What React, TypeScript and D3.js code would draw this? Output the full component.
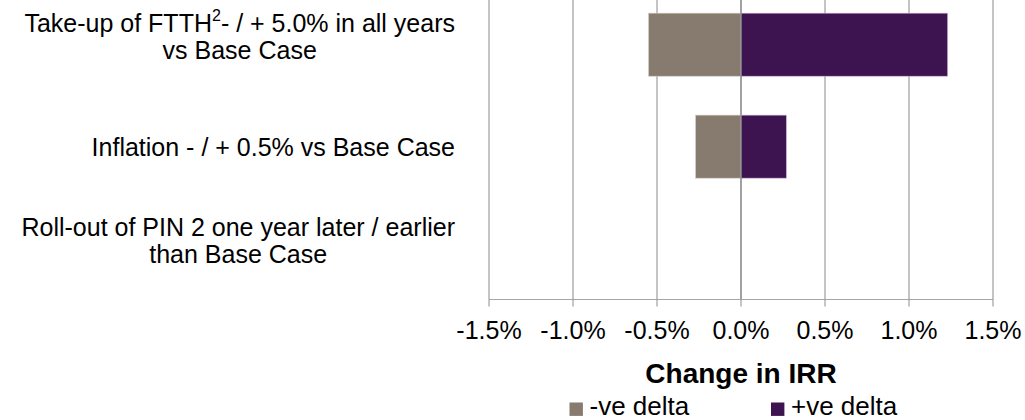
import React from "react";
import * as d3 from "d3";

// Sensitivity of IRR to each driver (percentage points)
const categories = ["takeup", "inflation", "rollout"];
const labelLines: string[][] = [
  ["Take-up of FTTH|2|- / + 5.0% in all years", "vs Base Case"],
  ["Inflation - / + 0.5% vs Base Case"],
  ["Roll-out of PIN 2 one year later / earlier", "than Base Case"],
];
const negDelta = [-0.55, -0.27, 0];
const posDelta = [1.23, 0.27, 0];
const xTicks = [-1.5, -1.0, -0.5, 0, 0.5, 1.0, 1.5];
const seriesNames = ["-ve delta", "+ve delta"];

const W = 1025;
const H = 420;
const FONT = "Arial, 'Liberation Sans', sans-serif";
const NEG_COLOR = "#877b6f";
const POS_COLOR = "#3d1450";

const measureCtx = (() => {
  const c = document.createElement("canvas");
  return c.getContext("2d") as CanvasRenderingContext2D;
})();
function textWidth(s: string, size: number, weight = "normal") {
  measureCtx.font = `${weight} ${size}px ${FONT}`;
  return measureCtx.measureText(s).width;
}
function lineWidth(line: string) {
  const parts = line.split("|");
  if (parts.length === 3) {
    return textWidth(parts[0], 25) + textWidth(parts[1], 16) + textWidth(parts[2], 25);
  }
  return textWidth(line, 25);
}

// percent formatter with a plain hyphen for negatives
const fmt = d3.formatLocale({
  decimal: ".",
  thousands: ",",
  grouping: [3],
  currency: ["", ""],
  minus: "-",
}).format(".1%");

export default function App() {
  const x = d3.scaleLinear().domain([-1.5, 1.5]).range([489, 993]);
  const y = d3
    .scaleBand<string>()
    .domain(categories)
    .range([-6.3, 299.6])
    .paddingInner(0.382)
    .paddingOuter(0.191);
  const axisY = 299.5;
  const labelRight = 455;

  return (
    <svg
      width={W}
      height={H}
      style={{ position: "absolute", left: 0, top: 0, background: "#fff" }}
      fontFamily={FONT}
    >
      <rect width={W} height={H} fill="#fff" />
      {/* vertical gridlines */}
      {xTicks.map((t) => (
        <line
          key={"g" + t}
          x1={x(t)}
          x2={x(t)}
          y1={-10}
          y2={axisY}
          stroke="#c4c4c4"
          strokeWidth={2}
        />
      ))}
      {/* bars */}
      {categories.map((c, i) => (
        <g key={c}>
          {negDelta[i] !== 0 && (
            <rect
              x={x(negDelta[i])}
              y={y(c)}
              width={x(0) - x(negDelta[i])}
              height={y.bandwidth()}
              fill={NEG_COLOR}
              stroke="#cfc8c0"
              strokeWidth={0.6}
            />
          )}
          {posDelta[i] !== 0 && (
            <rect
              x={x(0)}
              y={y(c)}
              width={x(posDelta[i]) - x(0)}
              height={y.bandwidth()}
              fill={POS_COLOR}
              stroke="#c9b6d6"
              strokeWidth={0.6}
            />
          )}
        </g>
      ))}
      {/* zero line */}
      <line x1={x(0)} x2={x(0)} y1={-10} y2={axisY} stroke="#8a8a8a" strokeWidth={1.2} />
      {/* x axis */}
      <line x1={x(-1.5)} x2={x(1.5)} y1={axisY} y2={axisY} stroke="#a6a6a6" strokeWidth={1} />
      {xTicks.map((t) => (
        <g key={"t" + t}>
          <line x1={x(t)} x2={x(t)} y1={axisY} y2={axisY + 7} stroke="#8c8c8c" strokeWidth={1} />
          <text x={x(t)} y={339} textAnchor="middle" fontSize={25} fill="#000">
            {fmt(t / 100)}
          </text>
        </g>
      ))}
      {/* category labels */}
      {categories.map((c, i) => {
        const lines = labelLines[i];
        const maxW = d3.max(lines, lineWidth) as number;
        const cx = labelRight - maxW / 2;
        const mid = (y(c) as number) + y.bandwidth() / 2;
        const baselines =
          lines.length === 1 ? [mid + 9] : [mid - 13, mid + 14.5];
        return (
          <g key={"l" + c}>
            {lines.map((ln, j) => {
              const parts = ln.split("|");
              return (
                <text
                  key={j}
                  x={cx}
                  y={baselines[j]}
                  textAnchor="middle"
                  fontSize={25}
                  fill="#000"
                >
                  {parts.length === 3 ? (
                    <>
                      <tspan>{parts[0]}</tspan>
                      <tspan fontSize={16} dy={-11}>
                        {parts[1]}
                      </tspan>
                      <tspan dy={11}>{parts[2]}</tspan>
                    </>
                  ) : (
                    ln
                  )}
                </text>
              );
            })}
          </g>
        );
      })}
      {/* axis title */}
      <text x={x(0)} y={383} textAnchor="middle" fontSize={28} fontWeight="bold" fill="#000">
        Change in IRR
      </text>
      {/* legend */}
      {seriesNames.map((s, i) => {
        const lx = i === 0 ? 569.5 : 771;
        return (
          <g key={s}>
            <rect x={lx} y={402.5} width={13.4} height={13.4} fill={i === 0 ? NEG_COLOR : POS_COLOR} />
            <text x={lx + 20} y={414.5} fontSize={26} fill="#000">
              {s}
            </text>
          </g>
        );
      })}
    </svg>
  );
}
